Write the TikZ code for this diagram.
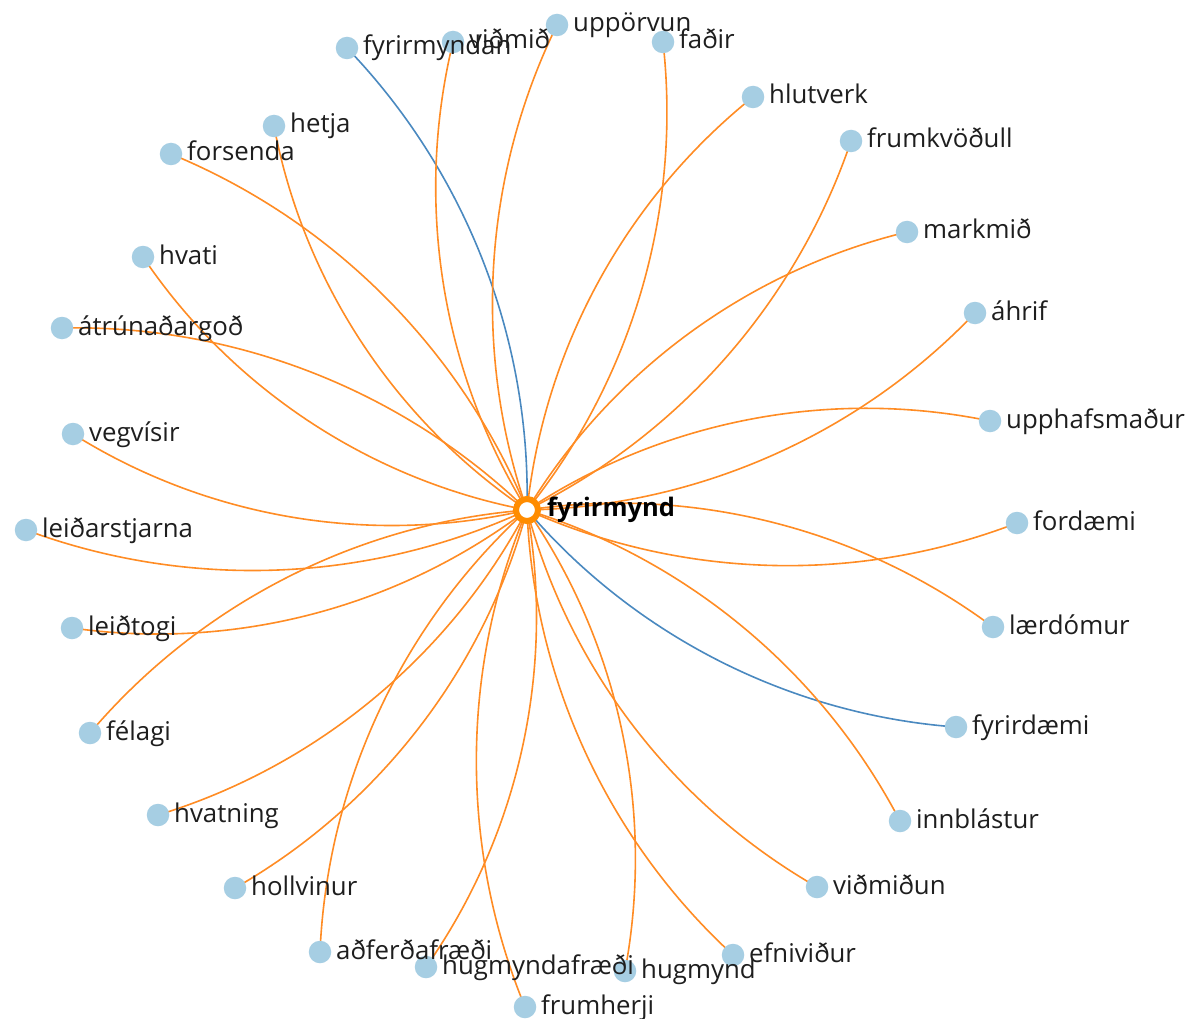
\documentclass[tikz,border=0pt]{standalone}
\usepackage{fontspec}
\setmainfont{Open Sans}
\usetikzlibrary{backgrounds}
\definecolor{edgeor}{HTML}{FF8C24}
\definecolor{hubor}{HTML}{FF8C00}
\definecolor{edgebl}{HTML}{4A89C0}
\definecolor{leaf}{HTML}{A6CEE3}
\definecolor{txt}{HTML}{1E1E1E}
\def\leafdata{%
n1/347/48/right/edgebl/fyrirmyndan,
n2/453/42/left/edgeor/viðmið,
n3/557/25/left/edgeor/uppörvun,
n4/663/42/right/edgeor/faðir,
n5/753/97/left/edgeor/hlutverk,
n6/851/141/right/edgeor/frumkvöðull,
n7/907/232/left/edgeor/markmið,
n8/975/313/right/edgeor/áhrif,
n9/990/421/left/edgeor/upphafsmaður,
n10/1017/523/right/edgeor/fordæmi,
n11/993/627/left/edgeor/lærdómur,
n12/956/727/right/edgebl/fyrirdæmi,
n13/900/821/left/edgeor/innblástur,
n14/817/887/right/edgeor/viðmiðun,
n15/733/955/right/edgeor/efniviður,
n16/625/971/left/edgeor/hugmynd,
n17/525/1007/right/edgeor/frumherji,
n18/426/967/left/edgeor/hugmyndafræði,
n19/320/952/right/edgeor/aðferðafræði,
n20/235/888/left/edgeor/hollvinur,
n21/158/815/left/edgeor/hvatning,
n22/90/733/right/edgeor/félagi,
n23/72/628/left/edgeor/leiðtogi,
n24/26/530/left/edgeor/leiðarstjarna,
n25/73/434/left/edgeor/vegvísir,
n26/62/328/right/edgeor/átrúnaðargoð,
n27/143/257/left/edgeor/hvati,
n28/171/154/right/edgeor/forsenda,
n29/274/126/left/edgeor/hetja}
\begin{document}
\begin{tikzpicture}[x=1pt,y=1pt,
  leafnode/.style={circle,fill=leaf,minimum size=22.5pt,inner sep=0pt},
  hubnode/.style={circle,draw=hubor,fill=white,line width=6pt,minimum size=22pt,inner sep=0pt},
  lbl/.style={anchor=base west,inner sep=0pt,font=\fontsize{25.8}{30}\selectfont,text=txt},
  hublbl/.style={anchor=base west,inner sep=0pt,font=\fontsize{25.5}{30}\selectfont\bfseries,text=black},
  linkstyle/.style={line width=1.6pt,looseness=0.885}]
\useasboundingbox (0,0) rectangle (1191,-1019);
\node[hubnode] (hub) at (527,-510) {};
\foreach \id/\x/\y/\side/\col/\txt in \leafdata {
  \node[leafnode] (\id) at (\x,-\y) {};
}
\begin{scope}[on background layer]
\fill[white] (0,0) rectangle (1191,-1019);
\foreach \id/\x/\y/\side/\col/\txt in \leafdata {
  \draw[linkstyle,draw=\col] (hub.center) to[bend \side=22.6] (\id.center);
}
\end{scope}
\foreach \id/\x/\y/\side/\col/\txt in \leafdata {
  \node[lbl] (l\id) at ([xshift=16pt,yshift=-7pt]\id.center) {\txt};
}
\node[hublbl] (lhub) at ([xshift=20pt,yshift=-6pt]hub.center) {fyrirmynd};
\end{tikzpicture}
\end{document}
